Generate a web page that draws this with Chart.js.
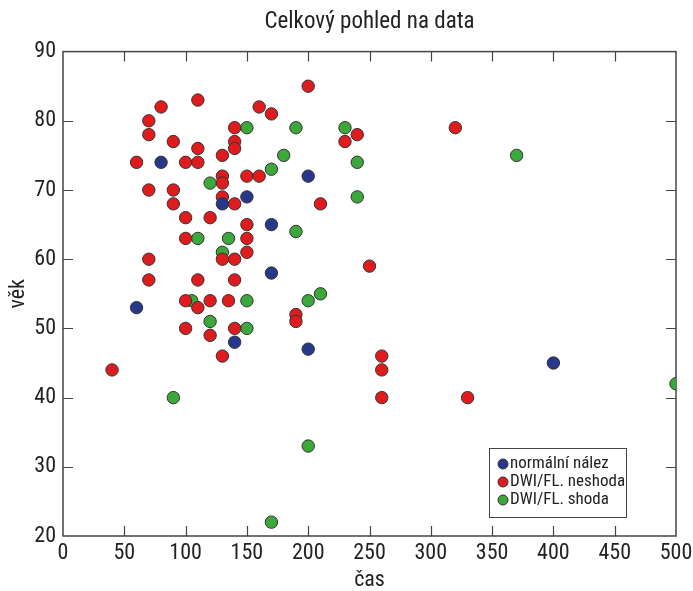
<!DOCTYPE html>
<html>
<head>
<meta charset="utf-8">
<script src="https://cdn.jsdelivr.net/npm/chart.js@4"></script>
<style>
  html, body { margin: 0; padding: 0; background: #fff; }
  #wrap { width: 693px; height: 591px; }
</style>
</head>
<body>
<div id="wrap"><canvas id="chart"></canvas></div>
<script>
// series (x = čas, y = věk)
const normalX = [60, 80, 130, 150, 170, 170, 140, 200, 200, 400];
const normalY = [53, 74, 68, 69, 65, 58, 48, 72, 47, 45];

const neshodaX = [110, 80, 160, 170, 70, 70, 140, 90, 140, 140, 110, 130, 60, 100, 110, 130, 130, 150, 160, 70,
  90, 90, 130, 140, 100, 120, 150, 100, 150, 150, 70, 130, 140, 70, 110, 140, 100, 110, 120, 135,
  100, 140, 120, 130, 40, 200, 240, 230, 320, 210, 250, 190, 190, 260, 260, 260, 330];
const neshodaY = [83, 82, 82, 81, 80, 78, 79, 77, 77, 76, 76, 75, 74, 74, 74, 72, 71, 72, 72, 70,
  70, 68, 69, 68, 66, 66, 65, 63, 63, 61, 60, 60, 60, 57, 57, 57, 54, 53, 54, 54,
  50, 50, 49, 46, 44, 85, 78, 77, 79, 68, 59, 52, 51, 46, 44, 40, 40];

const shodaX = [150, 190, 230, 180, 370, 170, 240, 240, 120, 110, 135, 190, 130, 105, 150, 200, 210, 120, 150, 90, 200, 170, 500];
const shodaY = [79, 79, 79, 75, 75, 73, 74, 69, 71, 63, 63, 64, 61, 54, 54, 54, 55, 51, 50, 40, 33, 22, 42];

const seriesNames = ['normální nález', 'DWI/FL. neshoda', 'DWI/FL. shoda'];
const seriesColors = ['#27388b', '#e01b1d', '#3ca73a'];

const FONT = '"Roboto Condensed", "DejaVu Sans Condensed", sans-serif';

function toPoints(xs, ys) {
  return xs.map((x, i) => ({ x: x, y: ys[i] }));
}

// box frame with inward ticks on all four sides
const framePlugin = {
  id: 'frame',
  beforeDatasetsDraw(chart) {
    const { ctx, chartArea: a, scales: { x, y } } = chart;
    ctx.save();
    ctx.strokeStyle = '#444';
    ctx.lineWidth = 1.5;
    ctx.strokeRect(a.left, a.top, a.right - a.left, a.bottom - a.top);
    ctx.lineWidth = 1.2;
    ctx.beginPath();
    x.ticks.forEach(t => {
      const p = Math.round(x.getPixelForValue(t.value)) + 0.5;
      if (p < a.left + 2 || p > a.right - 2) return;
      ctx.moveTo(p, a.bottom); ctx.lineTo(p, a.bottom - 10);
      ctx.moveTo(p, a.top); ctx.lineTo(p, a.top + 10);
    });
    y.ticks.forEach(t => {
      const p = Math.round(y.getPixelForValue(t.value)) + 0.5;
      if (p < a.top + 2 || p > a.bottom - 2) return;
      ctx.moveTo(a.left, p); ctx.lineTo(a.left + 10, p);
      ctx.moveTo(a.right, p); ctx.lineTo(a.right - 10, p);
    });
    ctx.stroke();
    ctx.restore();
  }
};

// legend box in the lower right corner of the plot
const boxLegend = {
  id: 'boxLegend',
  afterDraw(chart) {
    const { ctx, chartArea: a } = chart;
    const right = a.right - 50, bottom = a.bottom - 19;
    const w = 137, h = 69;
    const left = right - w, top = bottom - h;
    ctx.save();
    ctx.fillStyle = '#fff';
    ctx.fillRect(left, top, w, h);
    ctx.strokeStyle = '#444';
    ctx.lineWidth = 1;
    ctx.strokeRect(left + 0.5, top + 0.5, w, h);
    ctx.font = '17px ' + FONT;
    ctx.textBaseline = 'middle';
    chart.data.datasets.forEach((ds, i) => {
      const cy = top + 16 + i * 18;
      ctx.beginPath();
      ctx.arc(left + 14, cy, 5, 0, Math.PI * 2);
      ctx.fillStyle = ds.backgroundColor;
      ctx.fill();
      ctx.strokeStyle = '#333';
      ctx.stroke();
      ctx.fillStyle = '#222';
      ctx.fillText(ds.label, left + 21, cy);
    });
    ctx.restore();
  }
};

const datasets = [
  [normalX, normalY],
  [neshodaX, neshodaY],
  [shodaX, shodaY]
].map((s, i) => ({
  label: seriesNames[i],
  data: toPoints(s[0], s[1]),
  backgroundColor: seriesColors[i],
  borderColor: '#333',
  borderWidth: 1,
  pointRadius: 6.2,
  pointHoverRadius: 6.2
}));

new Chart(document.getElementById('chart'), {
  type: 'scatter',
  data: { datasets },
  plugins: [framePlugin, boxLegend],
  options: {
    responsive: true,
    maintainAspectRatio: false,
    animation: false,
    layout: { padding: { top: 0, right: 0, left: 0, bottom: 0 } },
    plugins: {
      legend: { display: false },
      tooltip: { enabled: false },
      title: {
        display: true,
        fullSize: false,
        text: 'Celkový pohled na data',
        color: '#222',
        font: { family: FONT, size: 23, weight: 'normal' },
        padding: { top: 8, bottom: 16 }
      }
    },
    scales: {
      x: {
        min: 0, max: 500,
        ticks: { stepSize: 50, color: '#222', padding: 4, maxRotation: 0, font: { family: FONT, size: 22 } },
        grid: { display: false, drawTicks: false },
        border: { display: false },
        title: { display: true, text: 'čas', color: '#222', font: { family: FONT, size: 22, lineHeight: 1 }, padding: { top: 0, bottom: 0 } },
        afterFit: s => { s.height = 55; s.paddingRight = 17; s.paddingLeft = 0; }
      },
      y: {
        min: 20, max: 90,
        ticks: { stepSize: 10, color: '#222', padding: 7, font: { family: FONT, size: 22 } },
        grid: { display: false, drawTicks: false },
        border: { display: false },
        title: { display: true, text: 'věk', color: '#222', font: { family: FONT, size: 22 }, padding: { top: 5, bottom: 0 } },
        afterFit: s => { s.width = 63; s.paddingTop = 0; s.paddingBottom = 0; }
      }
    }
  }
});
</script>
</body>
</html>
